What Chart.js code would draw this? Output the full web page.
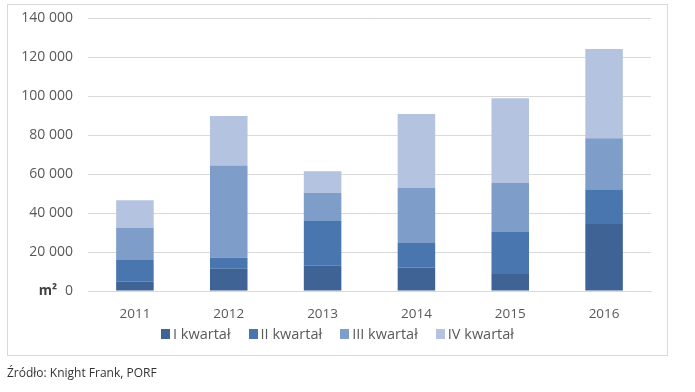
<!DOCTYPE html>
<html>
<head>
<meta charset="utf-8">
<script src="https://cdn.jsdelivr.net/npm/chart.js@4/dist/chart.umd.min.js"></script>
<style>
  html, body { margin: 0; padding: 0; background: #fff; }
  body { width: 695px; height: 392px; position: relative; overflow: hidden; font-family: "Open Sans", sans-serif; }
  #frame { position: absolute; left: 7px; top: 4px; width: 661px; height: 352px; border: 1px solid #d9d9d9; box-sizing: border-box; }
  #wrap { position: absolute; left: 0; top: 0; width: 695px; height: 392px; }
  #legend { position: absolute; left: 7px; width: 661px; top: 324px; display: flex; justify-content: center; gap: 18px; font-size: 14.5px; color: #595959; white-space: nowrap; }
  #legend .item { display: flex; align-items: center; }
  #legend .box { width: 9px; height: 10px; margin-right: 3px; }
  #source { position: absolute; left: 7px; top: 364px; font-size: 12px; color: #333; }
</style>
</head>
<body>
<div id="frame"></div>
<div id="wrap"><canvas id="c" width="695" height="392"></canvas></div>
<div id="legend"></div>
<div id="source">Źródło: Knight Frank, PORF</div>
<script>
const years = ["2011", "2012", "2013", "2014", "2015", "2016"];
const seriesNames = ["I kwartał", "II kwartał", "III kwartał", "IV kwartał"];
const q1 = [4800, 11400, 13000, 12100, 8700, 34400];
const q2 = [11100, 5700, 22900, 12500, 21600, 17400];
const q3 = [16400, 47200, 14400, 28200, 25100, 26500];
const q4 = [14200, 25400, 11100, 38000, 43400, 45800];
const yTicks = [0, 20000, 40000, 60000, 80000, 100000, 120000, 140000];
const colors = ["#3e6394", "#4976af", "#7e9dc8", "#b4c3df"];

const fmt = v => String(v).replace(/\B(?=(\d{3})+(?!\d))/g, " ");

const unitPlugin = {
  id: "unitLabel",
  afterDraw(chart) {
    const y = chart.scales.y;
    const ctx = chart.ctx;
    ctx.save();
    ctx.font = "bold 13.5px 'Open Sans', sans-serif";
    ctx.fillStyle = "#404040";
    ctx.textAlign = "right";
    ctx.textBaseline = "middle";
    ctx.fillText("m²", 57, y.getPixelForValue(0));
    ctx.restore();
  }
};

const data = [q1, q2, q3, q4];
const chart = new Chart(document.getElementById("c"), {
  type: "bar",
  data: {
    labels: years,
    datasets: data.map((d, i) => ({
      label: seriesNames[i],
      data: d,
      backgroundColor: colors[i],
      borderWidth: 0,
      barPercentage: 0.8,
      categoryPercentage: 0.5
    }))
  },
  options: {
    responsive: false,
    animation: false,
    devicePixelRatio: 1,
    layout: { padding: { left: 0, right: 44, top: 18, bottom: 61 } },
    plugins: { legend: { display: false }, tooltip: { enabled: false } },
    scales: {
      x: {
        stacked: true,
        grid: { display: false, drawTicks: false },
        border: { color: "#d9d9d9" },
        ticks: { color: "#595959", font: { family: "'Open Sans', sans-serif", size: 13.5 }, padding: 15 },
        afterFit(s) { s.height = 40; s.paddingLeft = 0; s.paddingRight = 0; }
      },
      y: {
        stacked: true,
        min: 0, max: 140000,
        afterBuildTicks(s) { s.ticks = yTicks.map(v => ({ value: v })); },
        grid: { color: "#d9d9d9", drawTicks: false },
        border: { display: false },
        ticks: {
          color: "#595959",
          font: { family: "'Open Sans', sans-serif", size: 14 },
          padding: 15,
          callback: v => fmt(v)
        },
        afterFit(s) { s.width = 88; s.paddingTop = 0; s.paddingBottom = 0; }
      }
    }
  },
  plugins: [unitPlugin]
});

const leg = document.getElementById("legend");
seriesNames.forEach((n, i) => {
  const it = document.createElement("div");
  it.className = "item";
  const b = document.createElement("span");
  b.className = "box";
  b.style.background = colors[i];
  const t = document.createElement("span");
  t.textContent = n;
  it.appendChild(b); it.appendChild(t);
  leg.appendChild(it);
});
</script>
</body>
</html>
